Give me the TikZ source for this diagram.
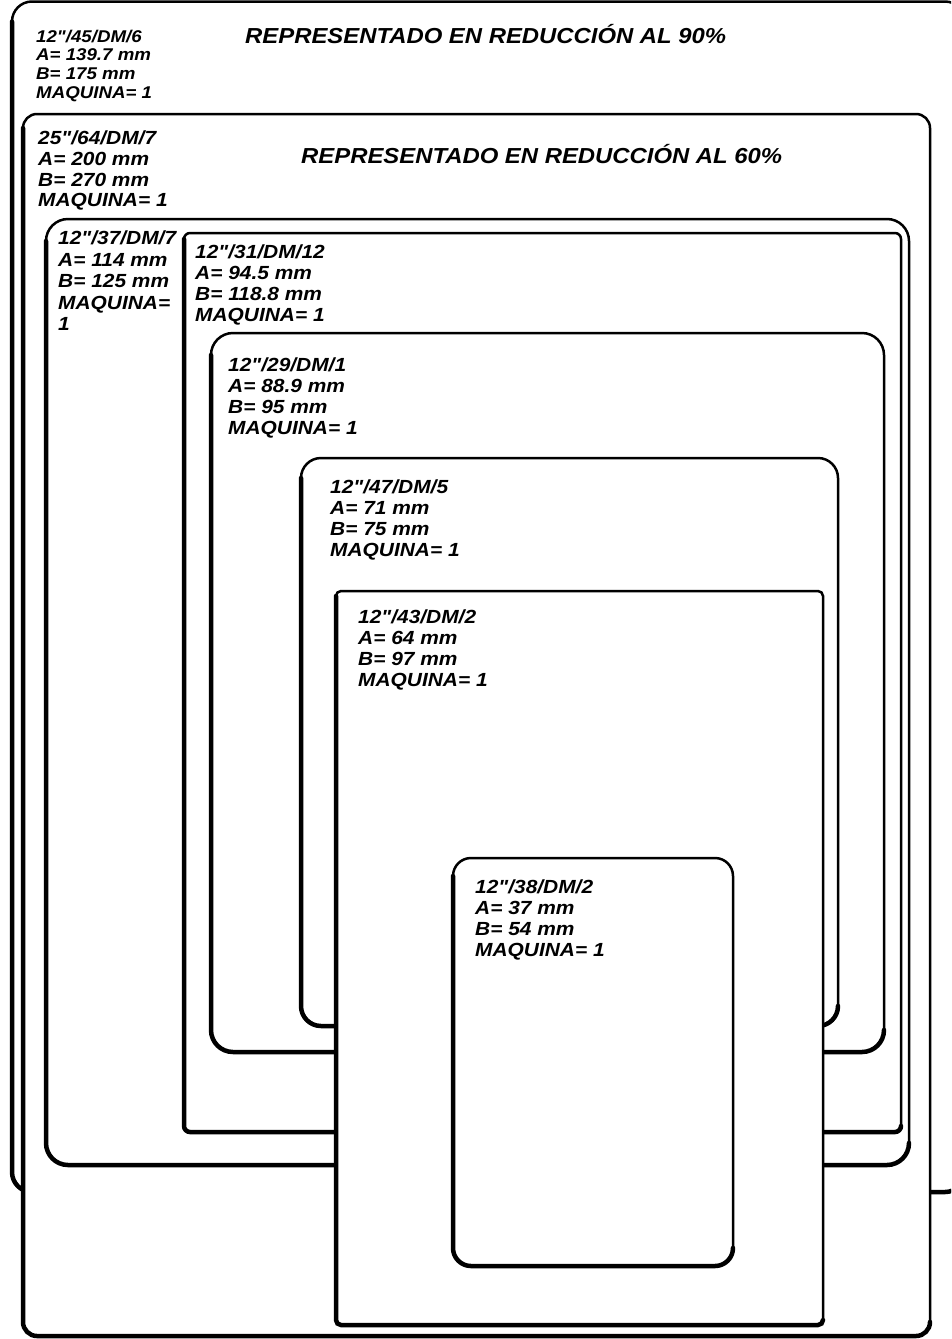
\documentclass[tikz,border=0pt]{standalone}
\usepackage{fontspec}
\newfontfamily\rotulo[FakeStretch=1.1]{Liberation Sans}
\tikzset{marco/.style={line width=2.5pt,fill=white},
  sombra/.style={line width=4.5pt,line cap=round},
  dato/.style={anchor=north west,inner sep=0pt,align=left,font=\rotulo\bfseries\itshape\fontsize{19}{21}\selectfont},
  titulo/.style={anchor=base west,inner sep=0pt,font=\rotulo\bfseries\itshape\fontsize{21.7}{24}\selectfont}}
% tarjeta: izq, arriba, der, abajo, radio (en px)
\newcommand{\tarjeta}[5]{%
  \draw[marco,rounded corners=#5pt] (#1,#2) rectangle (#3,#4);
  \draw[sombra,rounded corners=#5pt] (#1,{#2+#5}) -- (#1,#4) -- (#3,#4) -- (#3,{#4-#5});}
\begin{document}
\begin{tikzpicture}[x=1pt,y=-1pt]
\useasboundingbox (0,0) rectangle (951,1339);
\clip (0,0) rectangle (951,1339);
% reduccion al 90%
\tarjeta{12}{1.5}{965}{1192}{20}
\node[dato,font=\rotulo\bfseries\itshape\fontsize{17}{18.7}\selectfont] (d45) at (36,29.5) {12"/45/DM/6\\A= 139.7 mm\\B= 175 mm\\MAQUINA= 1};
\node[titulo] (t90) at (245,43) {REPRESENTADO EN REDUCCIÓN AL 90\%};
% reduccion al 60%
\tarjeta{23}{114}{930}{1336}{14}
\node[dato,font=\rotulo\bfseries\itshape\fontsize{19}{20.6}\selectfont] (d64) at (38,131) {25"/64/DM/7\\A= 200 mm\\B= 270 mm\\MAQUINA= 1};
\node[titulo] (t60) at (301,163) {REPRESENTADO EN REDUCCIÓN AL 60\%};
% troqueles
\tarjeta{46}{219}{909}{1165}{22}
\node[dato,font=\rotulo\bfseries\itshape\fontsize{19}{21.5}\selectfont] (d37) at (58,231) {12"/37/DM/7\\A= 114 mm\\B= 125 mm\\MAQUINA=\\1};
\tarjeta{184}{233}{901}{1132}{6}
\node[dato] (d31) at (195,245) {12"/31/DM/12\\A= 94.5 mm\\B= 118.8 mm\\MAQUINA= 1};
\tarjeta{211}{333}{884}{1052}{22}
\node[dato] (d29) at (228,358) {12"/29/DM/1\\A= 88.9 mm\\B= 95 mm\\MAQUINA= 1};
\tarjeta{301}{458}{838}{1026}{20}
\node[dato] (d47) at (330,480) {12"/47/DM/5\\A= 71 mm\\B= 75 mm\\MAQUINA= 1};
\tarjeta{336}{591}{823}{1325}{5}
\node[dato] (d43) at (358,610) {12"/43/DM/2\\A= 64 mm\\B= 97 mm\\MAQUINA= 1};
\tarjeta{453}{858}{733}{1266}{18}
\node[dato] (d38) at (475,880) {12"/38/DM/2\\A= 37 mm\\B= 54 mm\\MAQUINA= 1};
\end{tikzpicture}
\end{document}
